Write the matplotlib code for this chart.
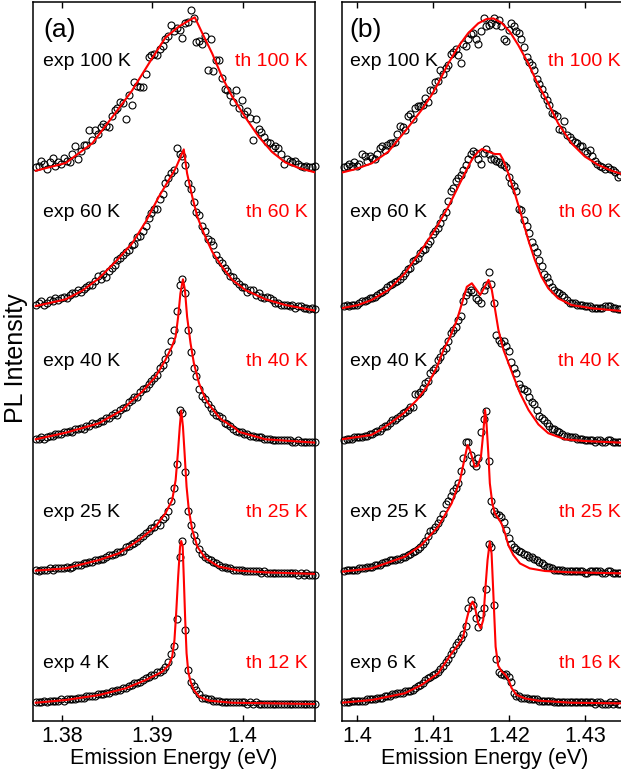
import numpy as np
import matplotlib
matplotlib.use("Agg")
import matplotlib.pyplot as plt

plt.rcParams['font.family'] = ['Liberation Sans', 'DejaVu Sans']

# spectrometer channels (eV)
energy_a = np.linspace(1.3771, 1.40799, 100)
energy_b = np.linspace(1.3983, 1.4346, 110)

# ---- panel (a): measured PL, normalised to ~100 at the peak ----
exp_a_100 = [8, 9, 12, 10, 7, 11, 14, 9, 11, 10,
             14, 12, 11, 16, 21, 13, 18, 22, 22, 31,
             25, 31, 29, 33, 35, 34, 33, 40, 44, 45,
             49, 48, 38, 53, 47, 61, 59, 58, 58, 66,
             77, 78, 79, 78, 82, 84, 88, 90, 97, 93,
             95, 94, 89, 98, 99, 106, 101, 86, 87, 85,
             90, 69, 88, 68, 75, 75, 64, 57, 56, 53,
             49, 56, 45, 50, 41, 43, 39, 25, 38, 32,
             30, 27, 24, 23, 20, 21, 20, 16, 10, 13,
             12, 11, 12, 10, 9, 8, 9, 8, 8, 9]
exp_a_60 = [4, 5, 6, 4, 5, 7, 6, 8, 7, 8,
            9, 8, 10, 11, 11, 13, 12, 14, 15, 16,
            16, 19, 22, 20, 23, 21, 25, 27, 29, 32,
            33, 35, 37, 38, 41, 42, 46, 47, 50, 53,
            58, 61, 64, 64, 70, 73, 80, 83, 86, 88,
            102, 98, 97, 91, 80, 76, 68, 62, 60, 53,
            50, 45, 44, 41, 35, 32, 30, 27, 25, 22,
            21, 19, 17, 15, 15, 12, 13, 13, 10, 11,
            9, 8, 9, 8, 7, 5, 5, 4, 4, 4,
            3, 4, 2, 3, 3, 2, 2, 1, 2, 1]
exp_a_40 = [2, 2, 3, 2, 3, 4, 4, 5, 5, 5,
            6, 6, 7, 6, 8, 8, 9, 8, 10, 10,
            12, 11, 12, 13, 13, 15, 15, 17, 18, 17,
            20, 21, 22, 25, 26, 28, 28, 31, 33, 34,
            36, 38, 40, 42, 46, 48, 52, 56, 63, 70,
            82, 98, 102, 93, 70, 56, 46, 41, 33, 29,
            27, 24, 21, 19, 17, 16, 15, 12, 11, 10,
            8, 7, 6, 6, 5, 5, 4, 4, 3, 3,
            3, 2, 2, 2, 1, 1, 1, 1, 1, 1,
            1, 0, 0, 1, 0, 0, 0, 0, 0, 0]
exp_a_25 = [2, 1, 2, 2, 2, 3, 2, 3, 3, 3,
            3, 4, 3, 4, 5, 5, 5, 6, 6, 7,
            7, 8, 8, 9, 9, 10, 11, 11, 12, 13,
            13, 14, 16, 17, 18, 19, 20, 22, 23, 25,
            26, 28, 29, 31, 30, 34, 35, 39, 45, 53,
            68, 102, 100, 63, 39, 30, 24, 20, 15, 12,
            10, 9, 8, 7, 6, 5, 4, 4, 3, 3,
            2, 2, 2, 2, 1, 1, 1, 1, 1, 1,
            0, 1, 0, 0, 0, 0, 0, 0, 0, 0,
            0, 0, 0, -1, 0, -1, 0, -1, -1, -1]
exp_a_4 = [1, 1, 1, 2, 1, 2, 2, 2, 2, 3,
           2, 3, 3, 3, 3, 4, 4, 4, 5, 5,
           5, 5, 6, 6, 6, 7, 7, 8, 8, 9,
           9, 10, 10, 11, 12, 13, 13, 14, 15, 16,
           17, 18, 18, 20, 20, 21, 23, 26, 31, 36,
           53, 92, 102, 46, 21, 14, 11, 9, 6, 4,
           4, 3, 3, 2, 2, 2, 1, 1, 1, 1,
           1, 1, 1, 1, 1, 0, 1, 0, 1, 0,
           0, 0, 0, 0, 0, 0, 0, 0, 0, 0,
           0, 0, 0, 0, 0, 0, 0, 0, 0, 0]

# ---- panel (a): model curves (energy, intensity) ----
th_a_100 = [(1.37710, 5.8), (1.38041, 10.6), (1.38337, 23), (1.38593, 42),
            (1.38777, 56), (1.38964, 73), (1.39145, 89), (1.39295, 96),
            (1.39404, 99.6), (1.39470, 101.7), (1.39551, 92), (1.39663, 79),
            (1.39775, 64), (1.39885, 52), (1.40031, 39), (1.40178, 27),
            (1.40325, 17.5), (1.40471, 11), (1.40621, 7.5), (1.40824, 4.4)]
th_a_60 = [(1.37710, 3.1), (1.38041, 7.3), (1.38225, 12.7), (1.38409, 20.4),
           (1.38593, 30.8), (1.38777, 42.3), (1.38927, 55.8), (1.39073, 71.5),
           (1.39183, 81.9), (1.39258, 89.2), (1.39314, 96.5), (1.39348, 101),
           (1.39385, 86), (1.39442, 71.5), (1.39498, 59), (1.39570, 48.5),
           (1.39663, 37), (1.39772, 27.7), (1.39885, 19.4), (1.40031, 13.1),
           (1.40253, 7.3), (1.40471, 3.75), (1.40824, 0)]
th_a_40 = [(1.37710, 1.7), (1.38041, 5.8), (1.38409, 11.7), (1.38668, 20),
           (1.38743, 24.2), (1.38889, 31.5), (1.39036, 40.8), (1.39145, 51.3),
           (1.39217, 59.6), (1.39258, 65.8), (1.39286, 78.3), (1.39311, 92.9),
           (1.39339, 101.7), (1.39361, 95), (1.39385, 78.3), (1.39423, 61.7),
           (1.39460, 49.2), (1.39517, 36.7), (1.39588, 27), (1.39626, 23.5),
           (1.39735, 15.8), (1.39772, 13.8), (1.39919, 8.5), (1.39956, 6.4),
           (1.40250, 1.7), (1.40805, -0.4)]
th_a_25 = [(1.37710, 1.5), (1.38041, 2.9), (1.38409, 8.1), (1.38630, 12.3),
           (1.38852, 20.6), (1.39036, 29), (1.39145, 37.3), (1.39220, 45.6),
           (1.39258, 58), (1.39283, 75), (1.39304, 91.5), (1.39320, 101.5),
           (1.39339, 91.5), (1.39357, 75), (1.39379, 54), (1.39404, 39.4),
           (1.39442, 26.9), (1.39498, 16.5), (1.39588, 9.2), (1.39735, 4),
           (1.39956, 1.5), (1.40253, 0.4), (1.40824, -0.6)]
th_a_12 = [(1.37710, 0.8), (1.38041, 2.5), (1.38409, 5.6), (1.38705, 9.8),
           (1.38927, 15), (1.39111, 20.2), (1.39183, 24.4), (1.39220, 29.6),
           (1.39245, 40), (1.39264, 56.7), (1.39286, 79.6), (1.39307, 98.3),
           (1.39320, 101.9), (1.39336, 98.3), (1.39348, 79.6), (1.39364, 52.5),
           (1.39379, 31.7), (1.39398, 20.2), (1.39423, 14), (1.39460, 8.75),
           (1.39517, 4.6), (1.39626, 2.1), (1.39885, 0.8), (1.40824, 0)]

# ---- panel (b): measured PL ----
exp_b_100 = [8, 9, 10, 9, 11, 9, 10, 16, 15, 12,
             15, 14, 13, 16, 20, 21, 19, 22, 23, 23,
             24, 29, 34, 33, 31, 40, 41, 38, 45, 46,
             46, 47, 51, 49, 56, 56, 61, 62, 69, 66,
             70, 72, 79, 80, 82, 78, 73, 85, 84, 88,
             91, 92, 88, 85, 93, 101, 96, 97, 98, 101,
             97, 100, 96, 88, 87, 94, 98, 96, 93, 92,
             88, 83, 77, 74, 72, 69, 63, 60, 57, 53,
             50, 47, 42, 41, 40, 32, 31, 37, 28, 27,
             25, 24, 23, 21, 21, 18, 17, 19, 15, 12,
             10, 9, 8, 7, 8, 7, 6, 5, 2, 3]
exp_b_60 = [3, 4, 3, 4, 4, 4, 5, 6, 6, 7,
            8, 8, 9, 10, 11, 12, 13, 15, 16, 17,
            18, 19, 20, 22, 24, 26, 27, 31, 32, 33,
            36, 38, 39, 42, 44, 48, 50, 52, 55, 59,
            62, 69, 75, 77, 81, 83, 85, 88, 91, 95,
            98, 100, 99, 95, 92, 99, 101, 98, 95, 95,
            94, 93, 92, 91, 90, 84, 80, 78, 75, 64,
            63, 57, 53, 49, 43, 40, 37, 32, 28, 23,
            21, 18, 15, 13, 12, 11, 10, 9, 7, 5,
            5, 5, 4, 4, 4, 3, 3, 3, 2, 2,
            2, 2, 2, 3, 3, 3, 2, 2, 1, 1]
exp_b_40 = [1, 2, 2, 2, 3, 3, 3, 3, 4, 4,
            5, 5, 6, 7, 7, 9, 10, 10, 12, 14,
            14, 15, 16, 18, 19, 20, 22, 22, 30, 30,
            31, 34, 37, 38, 43, 45, 46, 51, 53, 57,
            59, 63, 68, 70, 72, 76, 79, 88, 92, 94,
            95, 94, 90, 89, 87, 95, 98, 106, 99, 87,
            67, 64, 62, 63, 60, 57, 50, 46, 43, 36,
            34, 33, 32, 28, 25, 24, 20, 16, 15, 14,
            12, 10, 8, 8, 7, 6, 5, 4, 4, 3,
            3, 3, 2, 2, 2, 1, 1, 1, 1, 0,
            1, 1, 0, 0, 1, 1, 0, 0, 0, 0]
exp_b_25 = [1, 2, 2, 2, 2, 2, 3, 3, 3, 4,
            4, 4, 5, 5, 5, 6, 7, 7, 8, 8,
            8, 9, 9, 10, 10, 11, 12, 13, 14, 15,
            16, 18, 20, 23, 26, 27, 29, 31, 34, 37,
            43, 45, 48, 51, 53, 56, 64, 72, 82, 82,
            74, 69, 67, 72, 88, 96, 101, 70, 45, 39,
            37, 36, 35, 32, 27, 22, 18, 16, 15, 14,
            13, 12, 11, 10, 10, 9, 8, 7, 6, 5,
            4, 4, 3, 2, 2, 2, 2, 1, 1, 1,
            1, 1, 1, 1, 1, 0, 0, 1, 1, 1,
            1, 1, 0, 0, 1, 1, 0, 0, 0, 0]
exp_b_6 = [1, 1, 1, 2, 2, 2, 2, 2, 2, 3,
           3, 3, 3, 4, 4, 4, 5, 5, 5, 6,
           6, 7, 7, 7, 8, 8, 8, 9, 10, 11,
           12, 13, 15, 16, 17, 18, 19, 20, 22, 24,
           26, 28, 31, 34, 37, 39, 41, 44, 49, 60,
           65, 62, 54, 48, 56, 60, 72, 100, 98, 62,
           28, 20, 19, 18, 19, 17, 14, 7, 5, 5,
           4, 4, 4, 3, 3, 3, 3, 2, 2, 2,
           2, 2, 2, 1, 1, 1, 1, 1, 1, 1,
           1, 1, 1, 1, 1, 1, 1, 1, 1, 0,
           1, 1, 0, 0, 0, 1, 0, 1, 0, 0]

# ---- panel (b): model curves ----
th_b_100 = [(1.39793, 4.6), (1.39970, 6.7), (1.40190, 10.4), (1.40409, 17.7),
            (1.40626, 30.2), (1.40846, 43.75), (1.40979, 53.1), (1.41065, 60.4),
            (1.41199, 72.9), (1.41329, 83.3), (1.41458, 91.7), (1.41592, 97.9),
            (1.41701, 100.6), (1.41791, 101), (1.41898, 98.3), (1.42008, 92.7),
            (1.42118, 84.4), (1.42251, 72.9), (1.42361, 61.5), (1.42514, 47.9),
            (1.42644, 35.4), (1.42820, 22.9), (1.42997, 14.6), (1.43173, 9.4),
            (1.43347, 5.8), (1.43480, 3.75)]
th_b_60 = [(1.39793, 1.7), (1.40013, 3.75), (1.40190, 6.9), (1.40409, 13.1),
           (1.40626, 23.5), (1.40846, 38.1), (1.41022, 50.6), (1.41199, 65.2),
           (1.41372, 81.9), (1.41505, 94.4), (1.41592, 99.6), (1.41645, 101.3),
           (1.41725, 99.6), (1.41811, 98.1), (1.41878, 98.1), (1.41921, 94.4),
           (1.41988, 86), (1.42074, 73.5), (1.42164, 59), (1.42251, 44.4),
           (1.42337, 31.9), (1.42424, 21.5), (1.42514, 14.2), (1.42644, 7.9),
           (1.42820, 3.75), (1.43083, 1.7), (1.43480, 0)]
th_b_40 = [(1.39793, 1.7), (1.40186, 4.4), (1.40303, 7.5), (1.40433, 11.7),
           (1.40609, 17.9), (1.40786, 26.3), (1.40916, 34.6), (1.41049, 47),
           (1.41135, 57.5), (1.41222, 65.8), (1.41312, 76.3), (1.41378, 86.7),
           (1.41442, 97), (1.41508, 99.2), (1.41618, 91.9), (1.41728, 101.3),
           (1.41771, 95), (1.41815, 82.5), (1.41858, 70), (1.41925, 57.5),
           (1.41991, 49.2), (1.42058, 40.8), (1.42144, 30.4), (1.42254, 20),
           (1.42384, 11), (1.42514, 5.5), (1.42734, 1.7), (1.42994, 0.6),
           (1.43476, -0.4)]
th_b_25 = [(1.39793, 0.8), (1.40190, 2.9), (1.40626, 10.2), (1.40846, 17.5),
           (1.41065, 29), (1.41242, 43.5), (1.41352, 58), (1.41418, 72.7),
           (1.41452, 80), (1.41482, 76.9), (1.41548, 66.5), (1.41585, 66.9),
           (1.41628, 72.7), (1.41658, 87.3), (1.41682, 101.9), (1.41701, 93.5),
           (1.41725, 74.8), (1.41745, 56), (1.41778, 43.5), (1.41811, 37.3),
           (1.41855, 34.2), (1.41898, 31), (1.41945, 24.8), (1.41988, 17.5),
           (1.42054, 11.25), (1.42141, 6), (1.42271, 2.9), (1.42471, 1.25),
           (1.42820, 0.4), (1.43480, -0.2)]
th_b_16 = [(1.39793, 0.8), (1.40190, 2.5), (1.40626, 6.7), (1.40846, 11.9),
           (1.41065, 19.2), (1.41242, 31.7), (1.41329, 36.9), (1.41395, 42),
           (1.41438, 52.5), (1.41482, 60.8), (1.41518, 64), (1.41548, 60.8),
           (1.41592, 50.4), (1.41625, 47.3), (1.41658, 52.5), (1.41688, 73.3),
           (1.41715, 90), (1.41745, 101.5), (1.41768, 94), (1.41791, 69),
           (1.41821, 35.8), (1.41855, 24), (1.41898, 20.5), (1.41945, 18.5),
           (1.41988, 15.5), (1.42031, 10), (1.42098, 5.6), (1.42208, 3.5),
           (1.42381, 2.1), (1.42820, 0.8), (1.43480, 0.4)]

# bottom to top
exp_labels_a = ["exp 4 K", "exp 25 K", "exp 40 K", "exp 60 K", "exp 100 K"]
th_labels_a = ["th 12 K", "th 25 K", "th 40 K", "th 60 K", "th 100 K"]
exp_labels_b = ["exp 6 K", "exp 25 K", "exp 40 K", "exp 60 K", "exp 100 K"]
th_labels_b = ["th 16 K", "th 25 K", "th 40 K", "th 60 K", "th 100 K"]

ticks_a = [1.38, 1.39, 1.40]
ticklabels_a = ["1.38", "1.39", "1.4"]
ticks_b = [1.40, 1.41, 1.42, 1.43]
ticklabels_b = ["1.4", "1.41", "1.42", "1.43"]

step = 81.875
label_y = [0.080, 0.2888, 0.499, 0.7077, 0.9165]

W, H = 621, 776
fig = plt.figure(figsize=(W / 100, H / 100), dpi=100)
axA = fig.add_axes([33 / W, 1 - 720.5 / H, 282 / W, 718.5 / H])
axB = fig.add_axes([341.5 / W, 1 - 720.5 / H, 286.5 / W, 718.5 / H])


def draw(ax, energy, exps, ths, exp_labels, th_labels, xlim, ticks, ticklabels, tag, x0):
    for k, (ex, th) in enumerate(zip(exps, ths)):
        off = k * step
        ax.plot(energy, np.array(ex) + off, 'o', mfc='none', mec='black',
                ms=5, mew=0.8, clip_on=False, zorder=2)
        e, v = zip(*th)
        ax.plot(e, np.array(v) + off, '-', color='red', lw=1.5, zorder=3)
        ax.text(x0, label_y[k], exp_labels[k], transform=ax.transAxes,
                ha='left', va='center', fontsize=14, color='black')
        ax.text(0.973, label_y[k], th_labels[k], transform=ax.transAxes,
                ha='right', va='center', fontsize=14, color='red')
    ax.text(x0, 0.961, tag, transform=ax.transAxes, ha='left', va='center',
            fontsize=19)
    ax.set_xlim(*xlim)
    ax.set_ylim(-10.3, 438.75)
    ax.set_yticks([])
    ax.set_xticks(ticks)
    ax.set_xticklabels(ticklabels)
    ax.tick_params(axis='x', direction='in', top=True, bottom=True,
                   length=4.5, width=1, labelsize=15.5, pad=4)
    for s in ax.spines.values():
        s.set_linewidth(1.1)
    ax.set_xlabel("Emission Energy (eV)", fontsize=15.5, labelpad=1)


draw(axA, energy_a, [exp_a_4, exp_a_25, exp_a_40, exp_a_60, exp_a_100],
     [th_a_12, th_a_25, th_a_40, th_a_60, th_a_100],
     exp_labels_a, th_labels_a, (1.3768, 1.4080), ticks_a, ticklabels_a, "(a)", 0.0365)
draw(axB, energy_b, [exp_b_6, exp_b_25, exp_b_40, exp_b_60, exp_b_100],
     [th_b_16, th_b_25, th_b_40, th_b_60, th_b_100],
     exp_labels_b, th_labels_b, (1.39793, 1.43563), ticks_b, ticklabels_b, "(b)", 0.0286)

fig.text(16 / W, 1 - 358.5 / H, "PL Intensity", rotation=90, ha='center',
         va='center', fontsize=18)

fig.savefig("out.png", dpi=100)
